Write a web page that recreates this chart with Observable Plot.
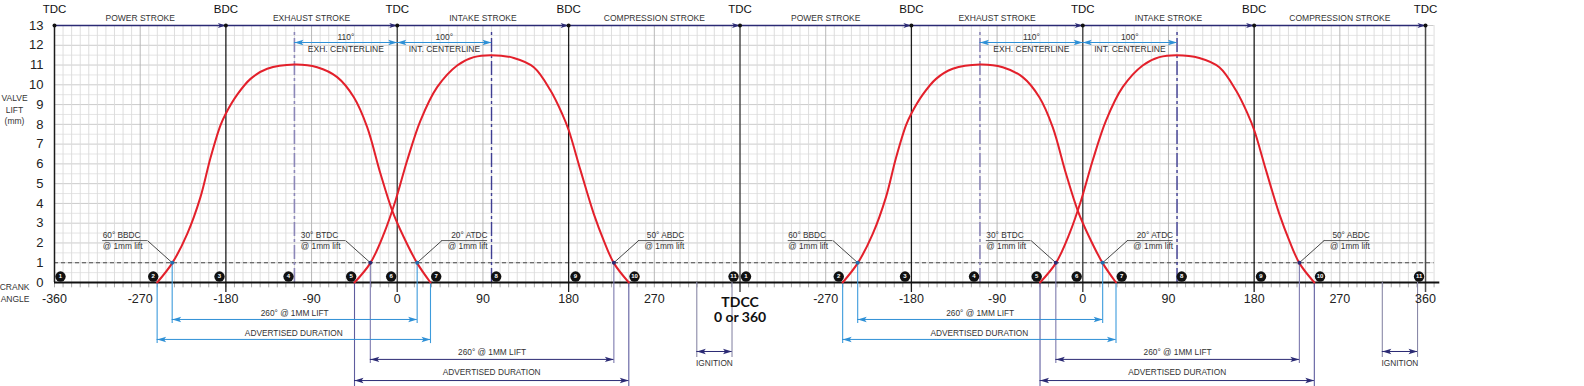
<!DOCTYPE html>
<html><head><meta charset="utf-8">
<script src="https://cdn.jsdelivr.net/npm/d3@7"></script>
<script src="https://cdn.jsdelivr.net/npm/@observablehq/plot@0.6"></script>
<style>
html,body{margin:0;padding:0;background:#fff;}
#chart svg{display:block;}
g[aria-label="tdcc-sub"] text{font-variant-numeric: oldstyle-nums; font-feature-settings: "onum" 1;}
</style></head><body><div id="chart"></div>
<script>
// ---------- data ----------
const liftTicks = [0,1,2,3,4,5,6,7,8,9,10,11,12,13];
const leftAngleTicks = [-360,-270,-180,-90,0,90,180,270];
const rightAngleTicks = [-270,-180,-90,0,90,180,270,360];
const deadCenters = [-360,-180,0,180,360];
const deadCenterNames = ["TDC","BDC","TDC","BDC","TDC"];
const strokeNames = ["POWER STROKE","EXHAUST STROKE","INTAKE STROKE","COMPRESSION STROKE"];
const strokeMids = [-270,-90,90,270];
// [crank angle, valve lift mm]
const exhaustLift = [[-252.2,0],[-236.4,0.98],[-220.6,2.46],[-206.7,4.32],[-196.2,6.3],[-185.7,7.95],[-180,8.55],[-168.1,9.5],[-154.1,10.3],[-136.6,10.81],[-108,11.03],[-84.1,10.89],[-63.1,10.39],[-45.6,9.37],[-31.6,7.86],[-17.6,5.5],[-5.3,3.64],[6.9,2.29],[20.9,0.98],[34.9,0]];
const intakeLift = [[-44.9,0],[-28.3,0.98],[-14.1,2.46],[-1.8,4.15],[10.4,6.17],[24.4,8.19],[41.9,9.88],[62.9,10.98],[80.4,11.4],[98.6,11.5],[122.4,11.36],[143.4,10.89],[161,9.71],[173.2,8.53],[180.2,7.69],[192.5,5.67],[206.4,3.47],[216.9,2.12],[227.5,0.98],[243.2,0]];
const eventNumbers = [1,2,3,4,5,6,7,8,9,10,11];
const eventAngles = [-353.7,-256.3,-186.7,-114.2,-48.4,-6.4,40.9,103.9,187.2,249.2,353.2];
const exhaustCenterline = -108, exhaustCenterLabel = "110°";
const intakeCenterline = 99, intakeCenterLabel = "100°";
const exhaust1mm = [-236.4, 20.9];
const exhaustAdvertised = [-252.2, 34.9];
const intake1mm = [-28.3, 227.5];
const intakeAdvertised = [-44.9, 243.2];
const ignitionSpan = [314.6, 351.6];
const timingNotes = [
  {angle:-236.4, line1:"60° BBDC", line2:"@ 1mm lift", side:"left", valve:"exhaust"},
  {angle:-28.3, line1:"30° BTDC", line2:"@ 1mm lift", side:"left", valve:"intake"},
  {angle:20.9, line1:"20° ATDC", line2:"@ 1mm lift", side:"right", valve:"exhaust"},
  {angle:227.5, line1:"50° ABDC", line2:"@ 1mm lift", side:"right", valve:"intake"}
];
const panelShift = [0, 720];

// ---------- styling ----------
const FONT = "Liberation Sans, Arial, Helvetica, sans-serif";
const RED = "#e3202b", NAVY = "#2b2a74", BLUE = "#2e90d6", PURPLE = "#7d7aae", INK = "#333";
const PX = 1 / 19.77; // one pixel in lift units (layout helper)

const headRight = {draw(c){ c.moveTo(0,0); c.lineTo(-9,-2.7); c.lineTo(-7,0); c.lineTo(-9,2.7); c.closePath(); }};
const headLeft  = {draw(c){ c.moveTo(0,0); c.lineTo(9,-2.7); c.lineTo(7,0); c.lineTo(9,2.7); c.closePath(); }};
const smallRight = {draw(c){ c.moveTo(0,0); c.lineTo(-8,-2.5); c.lineTo(-6,0); c.lineTo(-8,2.5); c.closePath(); }};

// ---------- derived tables ----------
const uMin = -360, uMax = 1089;
const vGrid = d3.range(uMin, uMax + 1, 9);
const vMinor = vGrid.filter(u => ((u % 90) + 90) % 90 !== 0);
const vMajor = vGrid.filter(u => ((u % 90) + 90) % 90 === 0 && ((u % 180) + 180) % 180 !== 0);
const hGrid = d3.range(0, 13.01, 0.5);

const dc = [];
panelShift.forEach((s, p) => deadCenters.forEach((a, i) => {
  if (p === 1 && i === 0) return;
  dc.push({u: a + s, name: deadCenterNames[i]});
}));
const strokes = [];
panelShift.forEach(s => strokeMids.forEach((m, i) => strokes.push({u: m + s, name: strokeNames[i]})));

const curves = [];
panelShift.forEach((s, p) => {
  exhaustLift.forEach(([a, l]) => curves.push({u: a + s, lift: l, key: "e" + p}));
  intakeLift.forEach(([a, l]) => curves.push({u: a + s, lift: l, key: "i" + p}));
});

const xLabels = [
  ...leftAngleTicks.map(a => ({u: a, t: String(a)})),
  ...rightAngleTicks.map(a => ({u: a + 720, t: String(a)}))
];

const events = [];
panelShift.forEach(s => eventAngles.forEach((a, i) => events.push({u: a + s, n: eventNumbers[i]})));

const centerArrows = [];
panelShift.forEach(s => {
  centerArrows.push({x1: exhaustCenterline + s, x2: 0 + s, top: exhaustCenterLabel, bottom: "EXH. CENTERLINE"});
  centerArrows.push({x1: 0 + s, x2: intakeCenterline + s, top: intakeCenterLabel, bottom: "INT. CENTERLINE"});
});
const centerlines = [];
panelShift.forEach(s => {
  centerlines.push({u: exhaustCenterline + s, kind: "e"});
  centerlines.push({u: intakeCenterline + s, kind: "i"});
});

// dimension lines below the axis (y levels are layout, in lift units below zero)
const dims = [];
panelShift.forEach(s => {
  dims.push({x1: exhaust1mm[0]+s, x2: exhaust1mm[1]+s, from: 1, y: -1.87, to: -2.07, c: BLUE, ext: "#3d9bdc", label: "260° @ 1MM LIFT", ly: -1.87 + 6*PX});
  dims.push({x1: exhaustAdvertised[0]+s, x2: exhaustAdvertised[1]+s, from: 0, y: -2.88, to: -3.09, c: BLUE, ext: "#3d9bdc", label: "ADVERTISED DURATION", ly: -2.88 + 6*PX});
  dims.push({x1: intake1mm[0]+s, x2: intake1mm[1]+s, from: 1, y: -3.89, to: -4.1, c: NAVY, ext: PURPLE, label: "260° @ 1MM LIFT", ly: -3.89 + 7*PX});
  dims.push({x1: intakeAdvertised[0]+s, x2: intakeAdvertised[1]+s, from: 0, y: -4.96, to: -5.3, c: NAVY, ext: "#5e5c9e", label: "ADVERTISED DURATION", ly: -4.96 + 8*PX});
  dims.push({x1: ignitionSpan[0]+s, x2: ignitionSpan[1]+s, from: 0, y: -3.49, to: -3.79, c: NAVY, ext: "#8a89a8", label: "IGNITION", ly: -3.49 - 12*PX});
});
const extLines = dims.flatMap(d => [{u: d.x1, y1: d.from, y2: d.to, c: d.ext}, {u: d.x2, y1: d.from, y2: d.to, c: d.ext}]);

const notes = [];
panelShift.forEach(s => timingNotes.forEach(n => {
  const a = n.angle + s;
  const ul = n.side === "left" ? [a - 73, a - 26] : [a + 26, a + 74];
  notes.push({...n, a, ul1: ul[0], ul2: ul[1], near: n.side === "left" ? ul[1] : ul[0], anchor: n.side === "left" ? ul[0] : ul[1]});
}));
const notesL = notes.filter(n => n.side === "left");
const notesR = notes.filter(n => n.side === "right");

const ULY = 2.12;
const sideText = (data, field, dy, anchor) => Plot.text(data, {x: "anchor", y: ULY, dy, text: field, textAnchor: anchor, fontSize: 8.3, fill: INK});
const marginText = (label, dx, dy, anchor) => Plot.text([label], {frameAnchor: "top-left", dx, dy, text: d => d, textAnchor: anchor, lineAnchor: "middle", fontSize: 8.5, fill: INK});

const chart = Plot.plot({
  width: 1584, height: 386,
  marginLeft: 54, marginRight: 150.4, marginTop: 25, marginBottom: 104,
  x: {domain: [uMin, uMax], axis: null},
  y: {domain: [0, 13], axis: null},
  style: {fontFamily: FONT, background: "#fff", overflow: "visible"},
  marks: [
    // grid
    Plot.ruleY(hGrid.filter(v => !Number.isInteger(v)), {y: d => d, x1: uMin, x2: uMax, stroke: "#e2e2e2", strokeWidth: 0.9}),
    Plot.ruleY(hGrid.filter(v => Number.isInteger(v)), {y: d => d, x1: uMin, x2: uMax, stroke: "#c6c6c6", strokeWidth: 0.9}),
    Plot.ruleX(vMinor, {x: d => d, y1: 0, y2: 13, stroke: "#dadada", strokeWidth: 0.9}),
    Plot.ruleX(vMajor, {x: d => d, y1: 0, y2: 13, stroke: "#b8b8b8", strokeWidth: 1}),
    // ticks below axis
    Plot.ruleX(vGrid, {x: d => d, y1: 0, y2: -0.27, stroke: "#a0a0a0", strokeWidth: 0.9}),
    // 1 mm lift line
    Plot.ruleY([1], {x1: uMin, x2: uMax, stroke: "#4a4a4a", strokeWidth: 1.1, strokeDasharray: "4,3"}),
    // dead centre lines
    Plot.ruleX(dc.filter(d => d.name === "BDC"), {x: "u", y1: -0.5, y2: 13, stroke: "#1c1c1c", strokeWidth: 1.3}),
    Plot.ruleX(dc.filter(d => d.name === "TDC" && d.u !== uMin), {x: "u", y1: -0.5, y2: 13, stroke: "#4e4e4e", strokeWidth: 1.5}),
    Plot.ruleX([uMin], {x: d => d, y1: 0, y2: 13, stroke: "#1c1c1c", strokeWidth: 1.5}),
    // centerlines
    Plot.ruleX(centerlines.filter(d => d.kind === "e"), {x: "u", y1: 0, y2: 12.65, stroke: "#8c87b8", strokeWidth: 1.6, strokeDasharray: "14,3,3,3"}),
    Plot.ruleX(centerlines.filter(d => d.kind === "i"), {x: "u", y1: 0, y2: 12.65, stroke: "#3f3e93", strokeWidth: 1.4, strokeDasharray: "14,3,3,3"}),
    // axis line
    Plot.ruleY([0], {x1: uMin, x2: 1095, stroke: "#111", strokeWidth: 1.8}),
    // stroke arrows on top
    Plot.ruleY([13], {x1: uMin, x2: 1080, stroke: NAVY, strokeWidth: 1.5}),
    Plot.dot(dc.filter(d => d.u !== uMin), {x: "u", y: 13, symbol: smallRight, r: 3, fill: NAVY, stroke: "none"}),
    Plot.dot(dc, {x: "u", y: 13, r: 2, fill: "#111"}),
    Plot.text(dc, {x: "u", y: 13, dy: -16, text: "name", fontSize: 11.5, fill: "#111"}),
    Plot.text(strokes, {x: "u", y: 13, dy: -7, text: "name", fontSize: 8.5, fill: INK}),
    // centerline dimension arrows
    Plot.ruleY(centerArrows, {y: 12.14, x1: "x1", x2: "x2", stroke: BLUE, strokeWidth: 1}),
    Plot.dot(centerArrows, {x: "x1", y: 12.14, symbol: headLeft, r: 3, fill: BLUE, stroke: "none"}),
    Plot.dot(centerArrows, {x: "x2", y: 12.14, symbol: headRight, r: 3, fill: BLUE, stroke: "none"}),
    Plot.text(centerArrows, {x: d => (d.x1 + d.x2) / 2, y: 12.14, dy: -5.5, text: "top", fontSize: 8.5, fill: INK}),
    Plot.text(centerArrows, {x: d => (d.x1 + d.x2) / 2, y: 12.14, dy: 7, text: "bottom", fontSize: 8.5, fill: INK}),
    // dimension lines below axis
    Plot.ruleX(extLines, {x: "u", y1: "y1", y2: "y2", stroke: "c", strokeWidth: 1.1}),
    Plot.ruleY(dims, {y: "y", x1: "x1", x2: "x2", stroke: "c", strokeWidth: 1}),
    Plot.dot(dims, {x: "x1", y: "y", symbol: headLeft, r: 3, fill: "c", stroke: "none"}),
    Plot.dot(dims, {x: "x2", y: "y", symbol: headRight, r: 3, fill: "c", stroke: "none"}),
    Plot.text(dims, {x: d => (d.x1 + d.x2) / 2, y: "ly", text: "label", fontSize: 8.3, fill: INK}),
    // valve lift curves
    Plot.line(curves, {x: "u", y: "lift", z: "key", stroke: RED, strokeWidth: 2, curve: "catmull-rom"}),
    // timing notes
    Plot.ruleY(notes, {y: ULY, x1: "ul1", x2: "ul2", stroke: "#333", strokeWidth: 0.8}),
    Plot.link(notes, {x1: "near", y1: ULY, x2: "a", y2: 1, stroke: "#1a1a1a", strokeWidth: 0.8}),
    sideText(notesL, "line1", -5, "start"),
    sideText(notesL, "line2", 6, "start"),
    sideText(notesR, "line1", -5, "end"),
    sideText(notesR, "line2", 6, "end"),
    Plot.dot(notes.filter(n => n.valve === "exhaust"), {x: "a", y: 1, r: 2, fill: "#1f6fb0"}),
    Plot.dot(notes.filter(n => n.valve === "intake"), {x: "a", y: 1, r: 2, fill: NAVY}),
    // numbered events
    Plot.dot(events, {x: "u", y: 0.3, r: 5.2, fill: "#111", stroke: "none"}),
    Plot.text(events, {x: "u", y: 0.3, text: d => String(d.n), fill: "#fff", fontSize: 6, fontWeight: "bold"}),
    // axis labels
    Plot.text(liftTicks, {x: uMin, y: d => d, dx: -11, text: d => String(d), textAnchor: "end", fontSize: 13, fill: "#222"}),
    Plot.text(xLabels, {x: "u", y: 0, dy: 16, text: "t", fontSize: 12.5, fill: "#222"}),
    Plot.text(["TDCC"], {x: 360, y: 0, dy: 20, text: d => d, fontSize: 14, fontWeight: "bold", fontFamily: "Lato, Open Sans, sans-serif", fill: "#111"}),
    Plot.text(["0 or 360"], {x: 360, y: 0, dy: 35, text: d => d, fontSize: 14, fontWeight: "bold", fontFamily: "Lato, Open Sans, sans-serif", fill: "#111", ariaLabel: "tdcc-sub"}),
    marginText("VALVE", -40, 73, "middle"),
    marginText("LIFT", -40, 84.5, "middle"),
    marginText("(mm)", -40, 96, "middle"),
    marginText("CRANK", -25, 262, "end"),
    marginText("ANGLE", -25, 274, "end")
  ]
});
document.getElementById("chart").appendChild(chart);
</script></body></html>
